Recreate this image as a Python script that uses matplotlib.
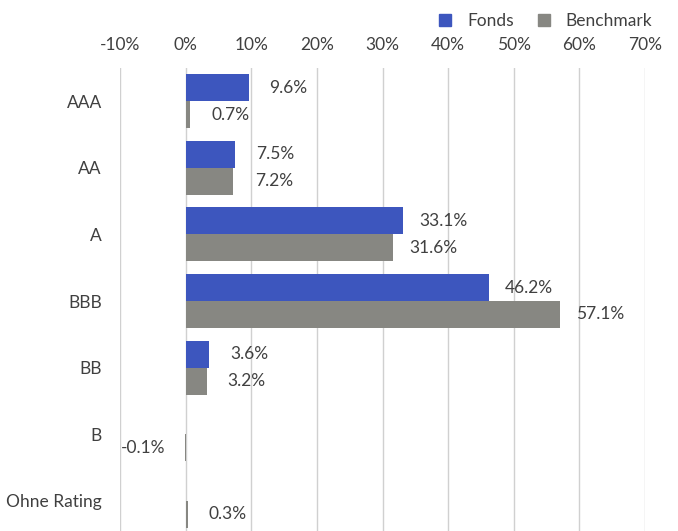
import matplotlib
matplotlib.use("Agg")
import matplotlib.pyplot as plt
from matplotlib.patches import Patch

categories = ["AAA", "AA", "A", "BBB", "BB", "B", "Ohne Rating"]
fonds = [9.6, 7.5, 33.1, 46.2, 3.6, 0.0, 0.0]
benchmark = [0.7, 7.2, 31.6, 57.1, 3.2, -0.1, 0.3]
xticks = [-10, 0, 10, 20, 30, 40, 50, 60, 70]

c_fonds = "#3D56BE"
c_bench = "#878782"
txt = "#404040"
plt.rcParams['font.family'] = ['Lato', 'DejaVu Sans']
FS = 12.5

W, H = 678, 531
fig = plt.figure(figsize=(W/100, H/100), dpi=100)
ax = fig.add_axes([120/W, -3/H, (645-120)/W, (531+3-68)/H])

ys = list(range(len(categories)))
bh = 0.405
ax.barh([y - bh/2 for y in ys], fonds, height=bh, color=c_fonds, zorder=3)
ax.barh([y + bh/2 for y in ys], benchmark, height=bh, color=c_bench, zorder=3)

ax.set_xlim(-10, 70)
ax.set_ylim(6.5, -0.5)
ax.set_xticks(xticks)
ax.set_xticklabels([f"{t}%" for t in xticks])
ax.xaxis.tick_top()
ax.set_yticks(ys)
ax.set_yticklabels(categories)
ax.tick_params(axis='x', length=0, pad=11, labelsize=FS, colors=txt)
ax.tick_params(axis='y', length=0, pad=13, labelsize=FS, colors=txt)
ax.grid(axis='x', color='#D0D0D0', linewidth=1, zorder=0)
for s in ax.spines.values():
    s.set_visible(False)

fonds_off = [21, 21, 16, 16, 21, 21, 21]
bench_off = [21, 22, 16, 16, 21, 21, 21]
for y, v, o in zip(ys, fonds, fonds_off):
    if v != 0:
        ax.annotate(f"{v:.1f}%", (v, y - bh/2), xytext=(o, 0), textcoords='offset pixels',
                    ha='left', va='center', fontsize=FS, color=txt)
for y, v, o in zip(ys, benchmark, bench_off):
    if v > 0:
        ax.annotate(f"{v:.1f}%", (v, y + bh/2), xytext=(o, 0), textcoords='offset pixels',
                    ha='left', va='center', fontsize=FS, color=txt)
    elif v < 0:
        ax.annotate(f"{v:.1f}%", (v, y + bh/2), xytext=(-20, 0), textcoords='offset pixels',
                    ha='right', va='center', fontsize=FS, color=txt)

handles = [Patch(color=c_fonds, label="Fonds"), Patch(color=c_bench, label="Benchmark")]
fig.legend(handles=handles, loc='upper right', bbox_to_anchor=(668/W, 1.005), ncol=2,
           frameon=False, fontsize=FS, handlelength=0.7, handleheight=0.7,
           columnspacing=1.4, handletextpad=0.9, labelcolor=txt)

fig.savefig("out.png", dpi=100)
